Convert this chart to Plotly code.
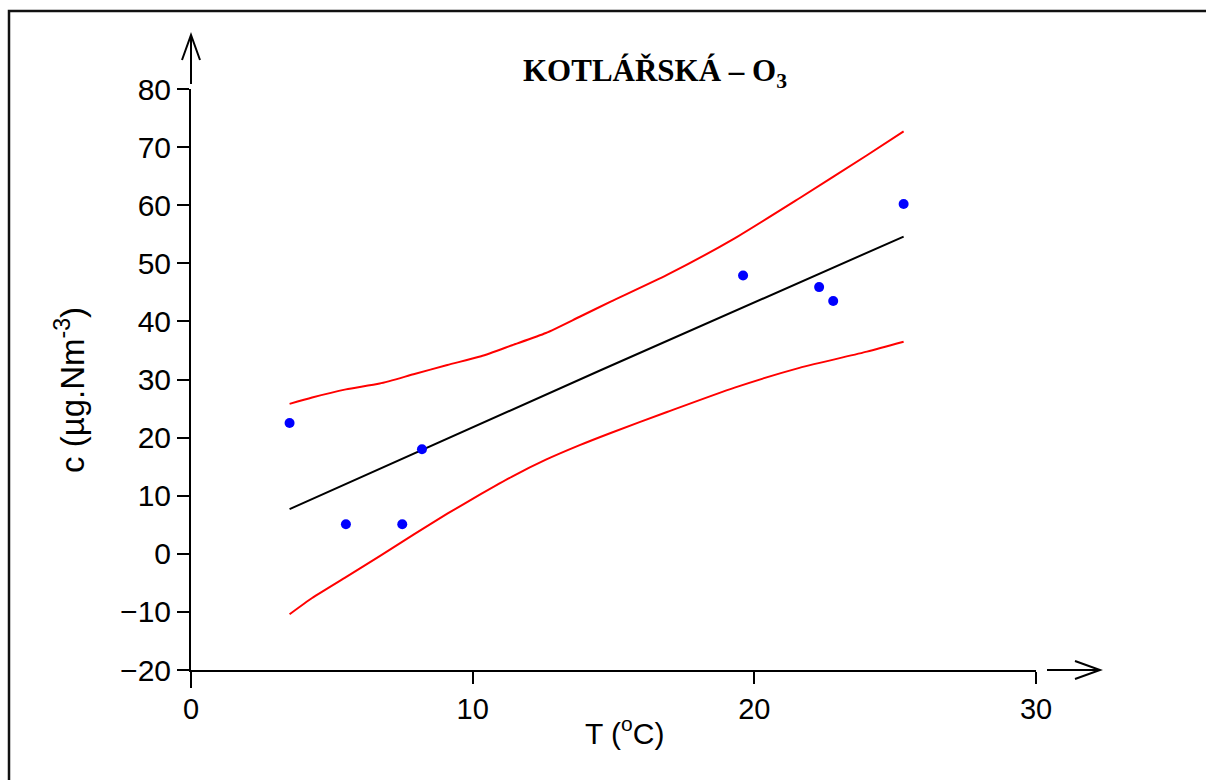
import plotly.graph_objects as go

# Observed ozone concentration vs. air temperature
T_obs = [3.5, 5.5, 7.5, 8.2, 19.6, 22.3, 22.8, 25.3]
c_obs = [22.5, 5.1, 5.1, 18.0, 47.9, 45.9, 43.5, 60.2]

# Regression line
T_fit = [3.5, 14.5, 25.3]
c_fit = [7.7, 31.5, 54.6]

# Confidence band (upper / lower)
T_band = [3.5, 4.3, 5.5, 6.7, 7.9, 9.1, 10.3, 11.4, 12.6, 13.8, 14.9,
          16.9, 19.3, 21.6, 24.0, 25.3]
c_upper = [25.8, 26.9, 28.3, 29.3, 30.9, 32.5, 34.0, 35.9, 38.0, 40.8, 43.4,
           48.0, 54.3, 61.2, 68.6, 72.7]
c_lower = [-10.4, -7.6, -4.0, -0.4, 3.3, 6.9, 10.3, 13.3, 16.2, 18.7, 20.8,
           24.4, 28.6, 32.0, 34.8, 36.5]

x_ticks = [0, 10, 20, 30]
y_ticks = [-20, -10, 0, 10, 20, 30, 40, 50, 60, 70, 80]

W, H = 1206, 780
L, R, T, B = 191, 1036, 89, 670  # plot area in pixels


def px(x):
    return (x - L) / (R - L)


def py(y):
    return (B - y) / (B - T)


fig = go.Figure()
for band in (c_upper, c_lower):
    fig.add_trace(go.Scatter(x=T_band, y=band, mode="lines",
                             line=dict(color="#ff0000", width=2, shape="spline", smoothing=0.6),
                             hoverinfo="skip"))
fig.add_trace(go.Scatter(x=T_fit, y=c_fit, mode="lines",
                         line=dict(color="#000000", width=2), hoverinfo="skip"))
fig.add_trace(go.Scatter(x=T_obs, y=c_obs, mode="markers",
                         marker=dict(color="#0000ff", size=10)))

sans = "Liberation Sans, Arial, sans-serif"
xtick_font = dict(family=sans, size=29, color="#000")
ytick_font = dict(family=sans, size=30, color="#000")

fig.update_layout(
    width=W, height=H,
    margin=dict(l=L, r=W - R, t=T, b=H - B, pad=0),
    paper_bgcolor="white", plot_bgcolor="white",
    showlegend=False,
    xaxis=dict(range=[0, 30], tickvals=x_ticks, showgrid=False, zeroline=False,
               showline=True, linecolor="#000", linewidth=2,
               ticks="outside", ticklen=12, tickwidth=2, tickcolor="#000",
               tickfont=xtick_font),
    yaxis=dict(range=[-20, 80], tickvals=y_ticks, showgrid=False, zeroline=False,
               showline=True, linecolor="#000", linewidth=2,
               ticks="outside", ticklen=12, tickwidth=2, tickcolor="#000",
               tickfont=ytick_font),
)

line_k = dict(color="#000", width=2)
shapes = [
    # axis line extensions past the origin
    dict(type="line", xref="paper", yref="paper", x0=px(L), x1=px(L), y0=py(B), y1=py(688), line=line_k),
    dict(type="line", xref="paper", yref="paper", x0=px(177), x1=px(L), y0=py(B), y1=py(B), line=line_k),
    # y arrow
    dict(type="line", xref="paper", yref="paper", x0=px(L), x1=px(L), y0=py(84), y1=py(35), line=line_k),
    dict(type="path", xref="paper", yref="paper",
         path=f"M {px(182)} {py(60)} L {px(L)} {py(35)} L {px(200)} {py(60)}", line=line_k),
    # x arrow
    dict(type="line", xref="paper", yref="paper", x0=px(1047), x1=px(1100), y0=py(B), y1=py(B), line=line_k),
    dict(type="path", xref="paper", yref="paper",
         path=f"M {px(1075)} {py(661)} L {px(1100)} {py(B)} L {px(1075)} {py(679)}", line=line_k),
    # frame
    dict(type="path", xref="paper", yref="paper",
         path=f"M {px(9)} {py(800)} L {px(9)} {py(11)} L {px(1220)} {py(11)}",
         line=dict(color="#111", width=2.5)),
]
fig.update_layout(shapes=shapes)

fig.add_annotation(xref="paper", yref="paper", x=px(655), y=py(73),
                   text="<b>KOTLÁŘSKÁ – O<sub>3</sub></b>", showarrow=False,
                   xanchor="center", yanchor="middle",
                   font=dict(family="Liberation Serif, Times New Roman, serif", size=31, color="#000"))
fig.add_annotation(xref="paper", yref="paper", x=px(624), y=py(731),
                   text="T (<sup>o</sup>C)", showarrow=False,
                   xanchor="center", yanchor="middle", font=dict(family=sans, size=30, color="#000"))
fig.add_annotation(xref="paper", yref="paper", x=px(70), y=py(390),
                   text="c (µg.Nm<sup>-3</sup>)", showarrow=False, textangle=-90,
                   xanchor="center", yanchor="middle", font=dict(family=sans, size=33, color="#000"))

fig.write_html("out.html")
